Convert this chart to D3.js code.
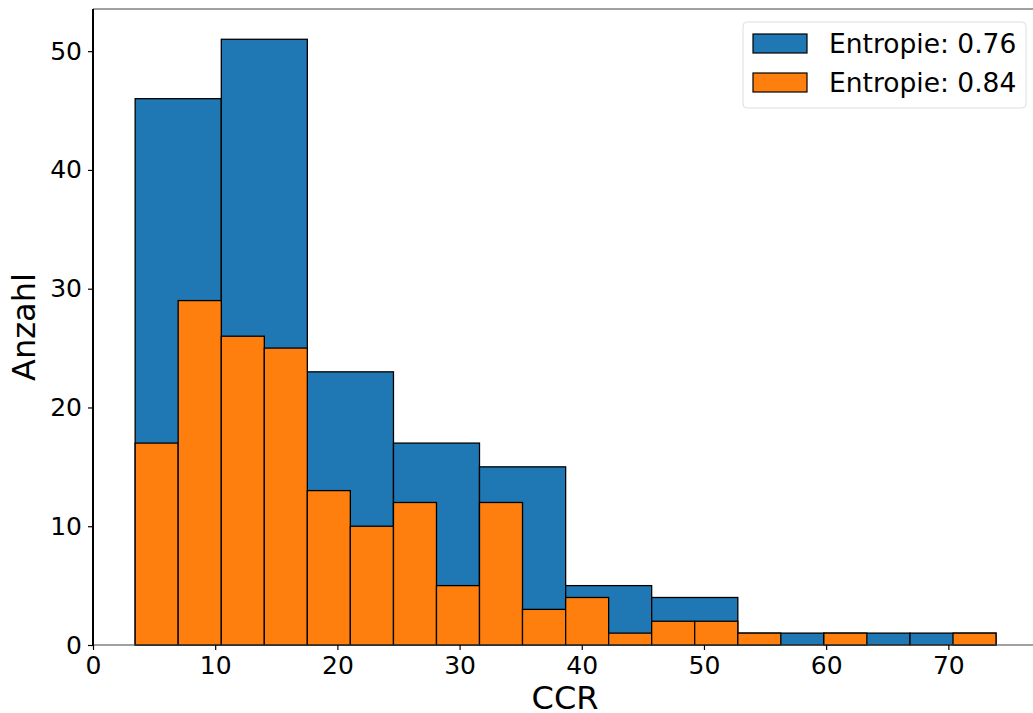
<!DOCTYPE html>
<html>
<head>
<meta charset="utf-8">
<script src="https://cdn.jsdelivr.net/npm/d3@7"></script>
<style>
  body { margin: 0; background: #fff; }
  svg text { font-family: "DejaVu Sans", sans-serif; }
</style>
</head>
<body>
<script>
// bin edges (shared range 3.45 .. 73.9)
const blueEdges = [3.45, 10.50, 17.54, 24.59, 31.63, 38.68, 45.72, 52.77, 59.81, 66.86, 73.90];
const blueCounts = [46, 51, 23, 17, 15, 5, 4, 1, 1, 1];

const orangeEdges = [3.45, 6.97, 10.50, 14.02, 17.54, 21.06, 24.59, 28.11, 31.63, 35.15, 38.68,
                     42.20, 45.72, 49.24, 52.77, 56.29, 59.81, 63.33, 66.86, 70.38, 73.90];
const orangeCounts = [17, 29, 26, 25, 13, 10, 12, 5, 12, 3, 4, 1, 2, 2, 1, 0, 1, 0, 0, 1];

const seriesNames = ["Entropie: 0.76", "Entropie: 0.84"];
const seriesColors = ["#1f77b4", "#ff7f0e"];
const xTicks = [0, 10, 20, 30, 40, 50, 60, 70];
const yTicks = [0, 10, 20, 30, 40, 50];

const W = 1033, H = 713;
const mLeft = 93, mTop = 9, mRight = 1040, mBottom = 645;

const svg = d3.select("body").append("svg")
  .attr("width", W)
  .attr("height", H);

const x = d3.scaleLinear().domain([0, 77.5]).range([mLeft, mRight]);
const y = d3.scaleLinear().domain([0, 53.55]).range([mBottom, mTop]);

const toBins = (edges, counts) => counts.map((c, i) => ({x0: edges[i], x1: edges[i + 1], n: c}));

const drawHist = (bins, color) => {
  svg.append("g")
    .selectAll("rect")
    .data(bins.filter(d => d.n > 0))
    .enter()
    .append("rect")
    .attr("x", d => x(d.x0))
    .attr("width", d => x(d.x1) - x(d.x0))
    .attr("y", d => y(d.n))
    .attr("height", d => y(0) - y(d.n))
    .attr("fill", color)
    .attr("stroke", "#000")
    .attr("stroke-width", 1.3);
};

drawHist(toBins(blueEdges, blueCounts), seriesColors[0]);
drawHist(toBins(orangeEdges, orangeCounts), seriesColors[1]);

// spines
svg.append("line").attr("x1", mLeft).attr("x2", W).attr("y1", mTop).attr("y2", mTop)
   .attr("stroke", "#444").attr("stroke-width", 1);
svg.append("line").attr("x1", mLeft).attr("x2", W).attr("y1", mBottom).attr("y2", mBottom)
   .attr("stroke", "#444").attr("stroke-width", 1);

const xAxis = d3.axisBottom(x).tickValues(xTicks).tickSize(5).tickPadding(6).tickFormat(d3.format("d"));
const yAxis = d3.axisLeft(y).tickValues(yTicks).tickSize(5).tickPadding(6).tickFormat(d3.format("d"));

const gx = svg.append("g")
  .attr("transform", "translate(0," + mBottom + ")")
  .call(xAxis);
gx.select(".domain").remove();
gx.selectAll("text").attr("font-size", 25).attr("fill", "#000");
gx.selectAll("line").attr("stroke", "#000").attr("stroke-width", 1.2);

const gy = svg.append("g")
  .attr("transform", "translate(" + mLeft + ",0)")
  .call(yAxis);
gy.select(".domain").remove();
gy.selectAll("text").attr("font-size", 25).attr("fill", "#000");
gy.selectAll("line").attr("stroke", "#000").attr("stroke-width", 1.2);

svg.append("line").attr("x1", mLeft).attr("x2", mLeft).attr("y1", mTop).attr("y2", mBottom)
   .attr("stroke", "#000").attr("stroke-width", 2);

// axis titles
svg.append("text")
   .attr("x", 565)
   .attr("y", 709)
   .attr("text-anchor", "middle")
   .attr("font-size", 32)
   .text("CCR");

svg.append("text")
   .attr("transform", "translate(35," + 327 + ") rotate(-90)")
   .attr("text-anchor", "middle")
   .attr("font-size", 32)
   .text("Anzahl");

// legend
const legend = svg.append("g").attr("id", "legend");
legend.append("rect")
      .attr("x", 743).attr("y", 22)
      .attr("width", 283).attr("height", 86)
      .attr("rx", 4)
      .attr("fill", "#fff").attr("fill-opacity", 0.8)
      .attr("stroke", "#ddd");

const items = legend.selectAll("g.item")
  .data(seriesNames)
  .enter()
  .append("g")
  .attr("class", "item")
  .attr("transform", (d, i) => "translate(0," + (i * 39) + ")");

items.append("rect")
     .attr("x", 753).attr("y", 34)
     .attr("width", 54).attr("height", 19)
     .attr("fill", (d, i) => seriesColors[i])
     .attr("stroke", "#000").attr("stroke-width", 1.2);

items.append("text")
     .attr("x", 829).attr("y", 53)
     .attr("font-size", 26.5)
     .text(d => d);
</script>
</body>
</html>
